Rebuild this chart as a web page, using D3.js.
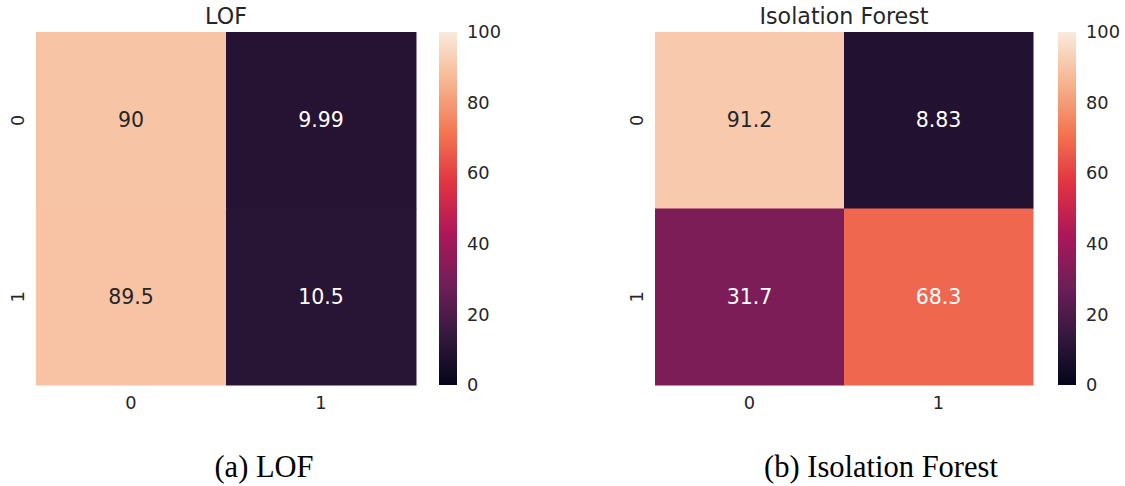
<!DOCTYPE html>
<html>
<head>
<meta charset="utf-8">
<script src="https://cdn.jsdelivr.net/npm/d3@7"></script>
<style>
  html, body { margin: 0; padding: 0; background: #ffffff; }
  svg { display: block; }
</style>
</head>
<body>
<svg id="chart" width="1125" height="486"></svg>
<script>
// Confusion matrices (percentages), rows = true class, columns = predicted class
const rowLabels = ["0", "1"];
const colLabels = ["0", "1"];
const lofValues = [[90, 9.99], [89.5, 10.5]];
const isoValues = [[91.2, 8.83], [31.7, 68.3]];
const colorbarTicks = [0, 20, 40, 60, 80, 100];
const panelTitles = ["LOF", "Isolation Forest"];
const captions = ["(a) LOF", "(b) Isolation Forest"];

// "rocket" colormap anchor colours
const rocketStops = ["#03051a", "#35193e", "#701f57", "#ad1759", "#e13342", "#f37651", "#f6b48f", "#faebdd"];
const rocketPos = [0, 1 / 7, 2 / 7, 3 / 7, 4 / 7, 5 / 7, 6 / 7, 1];

const rocket = d3.scaleLinear()
  .domain(rocketPos)
  .range(rocketStops)
  .interpolate(d3.interpolateRgb)
  .clamp(true);

const valueToUnit = d3.scaleLinear().domain([0, 100]).range([0, 1]);
const colorOf = v => rocket(valueToUnit(v));

const textColor = "#262626";
const sansFont = "DejaVu Sans, sans-serif";
const fmt = d3.format(".3~g");

function luminance(c) {
  const rgb = d3.rgb(c);
  const lin = x => { x /= 255; return x <= 0.03928 ? x / 12.92 : Math.pow((x + 0.055) / 1.055, 2.4); };
  return 0.2126 * lin(rgb.r) + 0.7152 * lin(rgb.g) + 0.0722 * lin(rgb.b);
}

const svg = d3.select("#chart");

// vertical gradient for the colorbars (bottom = 0, top = 100)
const defs = svg.append("defs");
const grad = defs.append("linearGradient")
  .attr("id", "rocket-grad")
  .attr("x1", 0).attr("y1", 1).attr("x2", 0).attr("y2", 0);
grad.selectAll("stop").data(d3.range(0, 101, 2)).enter().append("stop")
  .attr("offset", d => (d / 100))
  .attr("stop-color", d => colorOf(d));

const panels = [
  { values: lofValues, left: 36, right: 416, cbLeft: 439, title: panelTitles[0], caption: captions[0], capX: 264 },
  { values: isoValues, left: 655, right: 1033, cbLeft: 1058, title: panelTitles[1], caption: captions[1], capX: 881 }
];
const plotTop = 32, plotBottom = 385, cbWidth = 18;

panels.forEach(p => {
  const g = svg.append("g");
  const x = d3.scaleBand().domain(colLabels).range([p.left, p.right]);
  const y = d3.scaleBand().domain(rowLabels).range([plotTop, plotBottom]);

  const cells = [];
  rowLabels.forEach((r, i) => colLabels.forEach((c, j) => cells.push({ r, c, v: p.values[i][j] })));

  g.selectAll("rect.cell").data(cells).enter().append("rect")
    .attr("class", "cell")
    .attr("x", d => x(d.c))
    .attr("y", d => y(d.r))
    .attr("width", x.bandwidth() + 0.5)
    .attr("height", y.bandwidth() + 0.5)
    .attr("fill", d => colorOf(d.v));

  g.selectAll("text.annot").data(cells).enter().append("text")
    .attr("class", "annot")
    .attr("x", d => x(d.c) + x.bandwidth() / 2)
    .attr("y", d => y(d.r) + y.bandwidth() / 2)
    .attr("text-anchor", "middle")
    .attr("dominant-baseline", "central")
    .attr("font-family", sansFont)
    .attr("font-size", 20.5)
    .attr("fill", d => luminance(colorOf(d.v)) > 0.408 ? textColor : "#ffffff")
    .text(d => fmt(d.v));

  // x axis tick labels
  const xAxis = d3.axisBottom(x).tickSize(0).tickPadding(11);
  const xg = g.append("g").attr("transform", `translate(0,${plotBottom})`).call(xAxis);
  xg.select(".domain").remove();
  xg.selectAll("text").attr("font-family", sansFont).attr("font-size", 17.8).attr("fill", textColor);

  // y axis tick labels (rotated)
  const yAxis = d3.axisLeft(y).tickSize(0).tickPadding(0);
  const yg = g.append("g").attr("transform", `translate(${p.left},0)`).call(yAxis);
  yg.select(".domain").remove();
  yg.selectAll("text")
    .attr("font-family", sansFont).attr("font-size", 17.8).attr("fill", textColor)
    .attr("x", null).attr("dy", null)
    .attr("text-anchor", "middle")
    .attr("transform", "translate(-12.5,0) rotate(-90)");

  // title
  g.append("text")
    .attr("x", (p.left + p.right) / 2)
    .attr("y", 24)
    .attr("text-anchor", "middle")
    .attr("font-family", sansFont)
    .attr("font-size", 22.2)
    .attr("fill", textColor)
    .text(p.title);

  // colorbar
  const cb = d3.scaleLinear().domain([0, 100]).range([plotBottom, plotTop]);
  g.append("rect")
    .attr("x", p.cbLeft)
    .attr("y", cb(100))
    .attr("width", cbWidth)
    .attr("height", cb(0) - cb(100))
    .attr("fill", "url(#rocket-grad)");

  const cbAxis = d3.axisRight(cb).tickValues(colorbarTicks).tickSize(0).tickPadding(10);
  const cg = g.append("g").attr("transform", `translate(${p.cbLeft + cbWidth},0)`).call(cbAxis);
  cg.select(".domain").remove();
  cg.selectAll("text").attr("font-family", sansFont).attr("font-size", 17.8).attr("fill", textColor);

  // caption below the panel
  g.append("text")
    .attr("x", p.capX)
    .attr("y", 477)
    .attr("text-anchor", "middle")
    .attr("font-family", "Liberation Serif, DejaVu Serif, serif")
    .attr("font-size", 30.5)
    .attr("fill", "#000000")
    .text(p.caption);
});
</script>
</body>
</html>
